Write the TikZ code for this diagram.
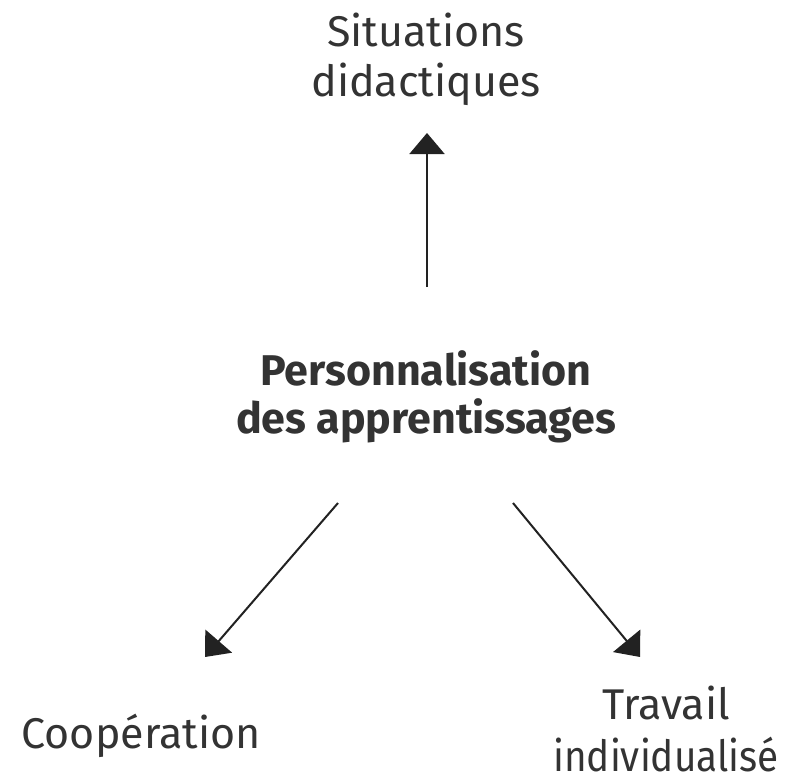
\documentclass[tikz,border=0pt]{standalone}
\usepackage{fontspec}
\usepackage{graphicx}
\setmainfont{Fira Sans}
\usetikzlibrary{arrows.meta}
\definecolor{txt}{HTML}{333333}
\definecolor{ln}{HTML}{222222}
\begin{document}
\begin{tikzpicture}[x=1pt,y=-1pt,
  lab/.style={text=txt,align=center,inner sep=0pt,anchor=base,font=\fontsize{43}{50}\selectfont},
  blab/.style={lab,font=\fontsize{43}{48}\selectfont\bfseries},
  arr/.style={draw=ln,line width=2pt,-{Triangle[length=21pt,width=35pt]}}]
\useasboundingbox (0,0) rectangle (800,781);
\node[lab] (sit) at (426,97) {Situations\\didactiques};
\node[blab] (pers) at (426,433) {Personnalisation\\des apprentissages};
\node[lab] (coop) at (141,748) {Coopération};
\node[lab,font=\fontsize{43}{52}\selectfont] (trav) at (666,771) {Travail\\\scalebox{0.9}[1]{individualisé}};
\coordinate (a1s) at (427,287);
\coordinate (a1e) at (427,133);
\coordinate (a2s) at (338,503);
\coordinate (a2e) at (205,657);
\coordinate (a3s) at (513,503);
\coordinate (a3e) at (640,657);
\draw[arr] (a1s) -- (a1e);
\draw[arr] (a2s) -- (a2e);
\draw[arr] (a3s) -- (a3e);
\end{tikzpicture}
\end{document}
